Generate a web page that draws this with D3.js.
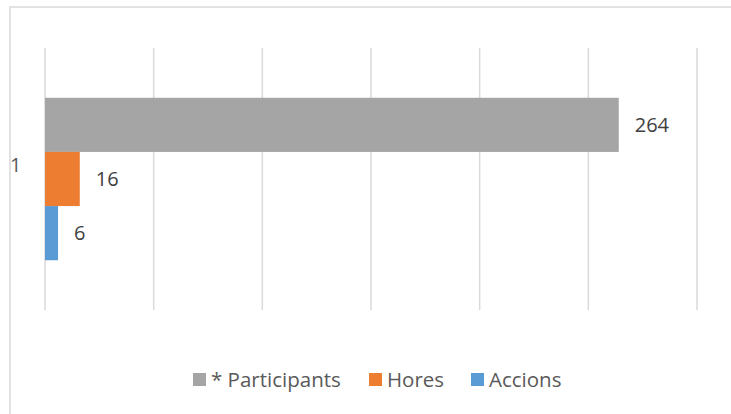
<!DOCTYPE html>
<html><head><meta charset="utf-8">
<script src="https://cdn.jsdelivr.net/npm/d3@7"></script>
<style>body{margin:0;background:#fff}svg{display:block}</style>
</head><body>
<svg id="c" width="731" height="414"></svg>
<script>
const categories = ["1"];
const seriesNames = ["* Participants", "Hores", "Accions"];
const seriesValues = [264, 16, 6];
const seriesColors = ["#A5A5A5", "#ED7D31", "#5B9BD5"];
const xTicks = [0, 50, 100, 150, 200, 250, 300];

const svg = d3.select("#c");
const font = "'Open Sans', 'Noto Sans', sans-serif";

// outer frame
svg.append("rect").attr("x", 10).attr("y", 7).attr("width", 740).attr("height", 420)
  .attr("fill", "none").attr("stroke", "#d9d9d9").attr("stroke-width", 1.5);

const x = d3.scaleLinear().domain([0, 300]).range([45, 697]);
const y0 = d3.scaleBand().domain(categories).range([48, 310]).paddingInner(0.38).paddingOuter(0.19);
const y1 = d3.scaleBand().domain(seriesNames).range([0, y0.bandwidth()]);

// gridlines
svg.append("g").selectAll("line").data(xTicks).join("line")
  .attr("x1", d => x(d)).attr("x2", d => x(d))
  .attr("y1", 48).attr("y2", 310)
  .attr("stroke", "#d9d9d9").attr("stroke-width", 1.5);

// category axis label
svg.append("g").selectAll("text").data(categories).join("text")
  .attr("x", 10).attr("y", d => y0(d) + y0.bandwidth() / 2 - 14)
  .attr("dy", "0.36em")
  .attr("font-family", font).attr("font-size", 20).attr("fill", "#595959")
  .text(d => d);

const rows = seriesNames.map((s, i) => ({ s, v: seriesValues[i], c: seriesColors[i], cat: categories[0] }));

const g = svg.append("g");
g.selectAll("rect").data(rows).join("rect")
  .attr("x", x(0)).attr("y", d => y0(d.cat) + y1(d.s))
  .attr("width", d => x(d.v) - x(0)).attr("height", y1.bandwidth())
  .attr("fill", d => d.c);

g.selectAll("text").data(rows).join("text")
  .attr("x", d => x(d.v) + 16).attr("y", d => y0(d.cat) + y1(d.s) + y1.bandwidth() / 2)
  .attr("dy", "0.36em")
  .attr("font-family", font).attr("font-size", 20).attr("fill", "#404040")
  .text(d => d.v);

// legend
const legendX = [193, 369, 471];
const lg = svg.append("g");
rows.forEach((d, i) => {
  lg.append("rect").attr("x", legendX[i]).attr("y", 373).attr("width", 13).attr("height", 13).attr("fill", d.c);
  lg.append("text").attr("x", legendX[i] + 18).attr("y", 379.5).attr("dy", "0.36em")
    .attr("font-family", font).attr("font-size", 20.5).attr("fill", "#595959").text(d.s);
});
</script>
</body></html>
